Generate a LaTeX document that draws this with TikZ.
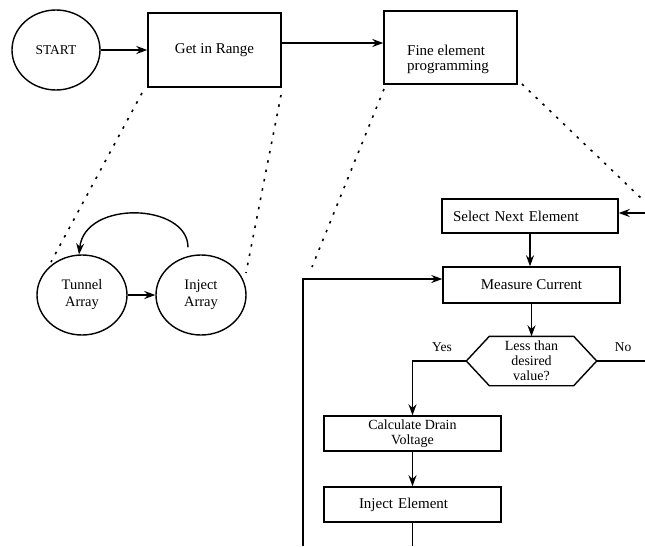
\documentclass[tikz,border=0pt]{standalone}
\usepackage{fontspec}
\setmainfont{Liberation Serif}
\usetikzlibrary{arrows.meta,shapes.geometric}
\begin{document}
\begin{tikzpicture}[x=1pt,y=-1pt,
  line width=1.4pt,
  box/.style={draw,rectangle,inner sep=0pt,font=\fontsize{15}{15}\selectfont,align=center},
  oval/.style={draw,ellipse,inner sep=0pt,font=\fontsize{14.5}{17}\selectfont,align=center},
  arr/.style={-{Stealth[length=11pt,width=8pt]}},
  dots/.style={line width=1.6pt,dash pattern=on 2.5pt off 7pt},
  lbl/.style={font=\fontsize{13.5}{15}\selectfont,inner sep=0pt}]
\useasboundingbox (0,0) rectangle (645,546);

% top row
\node[oval,minimum width=88pt,minimum height=80pt,font=\fontsize{13.5}{15}\selectfont] (start) at (56,50) {START};
\node[box,minimum width=133pt,minimum height=74pt] (range) at (214.5,50) {Get in Range};
\node[box,minimum width=133pt,minimum height=73pt] (fine) at (450.5,47.5) {};
\node[font=\fontsize{15}{15}\selectfont,align=left,inner sep=0pt] (finetxt) at (448,59) {Fine element\\programming};

% ellipses
\node[oval,minimum width=90pt,minimum height=80pt] (tunnel) at (82,295) {Tunnel\\Array};
\node[oval,minimum width=90pt,minimum height=80pt] (inject) at (201,295) {Inject\\Array};

% right flowchart
\node[box,minimum height=34pt,inner xsep=11pt,text width=154pt,align=left] (select) at (530,216) {Select Next Element};
\node[box,minimum width=177pt,minimum height=36pt] (measure) at (531.5,285) {Measure Current};
\node[minimum width=129pt,minimum height=48pt,inner sep=0pt,align=center,font=\fontsize{14}{15}\selectfont] (dec) at (531.5,361) {Less than\\desired\\value?};
\draw (dec.west) -- ([xshift=23pt]dec.north west) -- ([xshift=-23pt]dec.north east) -- (dec.east) -- ([xshift=-23pt]dec.south east) -- ([xshift=23pt]dec.south west) -- cycle;
\node[box,minimum width=177pt,minimum height=35pt,font=\fontsize{14}{15}\selectfont] (calc) at (412.5,433.5) {Calculate Drain\\Voltage};
\node[box,minimum height=35pt,inner xsep=35pt,text width=107pt,align=left] (injel) at (412.5,504.5) {Inject Element};

\node[lbl] (yes) at (442,347) {Yes};
\node[lbl] (no) at (623,347) {No};

% free ends
\coordinate (rin) at (645,213);
\coordinate (rout) at (645,361);
\coordinate (loopbot) at (303,546);
\coordinate (loopc) at (303,279);
\coordinate (injbot) at (412.5,546);

% connectors
\draw[arr] (start) -- (range);
\draw[arr] ([yshift=7pt]range.east) -- ([yshift=7pt]range.east -| fine.west);
\draw[arr] (tunnel) -- (inject);
\draw[arr] ([shift={(-13pt,7pt)}]inject.north) .. controls +(0,-44) and +(6,-55) .. ([xshift=-3pt]tunnel.north);
\draw[arr] (rin) -- (rin -| select.east);
\draw[arr] (select.south) -- (select.south |- measure.north);
\draw[arr] (loopbot) -- (loopc) -- (loopc -| measure.west);
\draw[arr] (measure.south) -- (measure.south |- dec.north);
\draw[arr] (dec.west) -| (calc.north);
\draw (dec.east) -- (rout);
\draw[arr] (calc) -- (injel);
\draw (injel.south) -- (injbot);

% dotted guide lines
\coordinate (d1a) at (142,93);  \coordinate (d1b) at (51,262);
\coordinate (d2a) at (281,95);  \coordinate (d2b) at (246,273);
\coordinate (d3a) at (384,89);  \coordinate (d3b) at (312,267);
\coordinate (d4a) at (522,84);  \coordinate (d4b) at (643,200);
\draw[dots] (d1a) -- (d1b);
\draw[dots] (d2a) -- (d2b);
\draw[dots] (d3a) -- (d3b);
\draw[dots] (d4a) -- (d4b);
\end{tikzpicture}
\end{document}
